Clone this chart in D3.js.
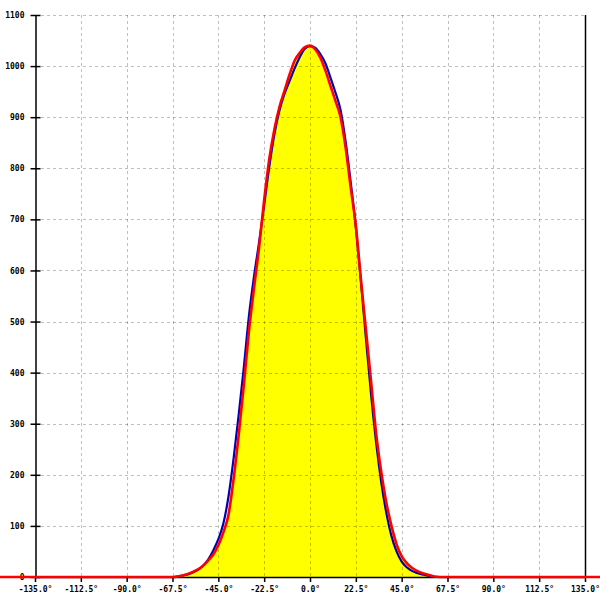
<!DOCTYPE html>
<html>
<head>
<meta charset="utf-8">
<script src="https://cdn.jsdelivr.net/npm/d3@7"></script>
<style>
  html, body { margin: 0; padding: 0; background: #fff; }
  svg { display: block; }
  text { font-family: "DejaVu Sans Mono", monospace; font-size: 8px; font-weight: bold; fill: #000; }
</style>
</head>
<body>
<svg id="chart" width="600" height="600"></svg>
<script>
// ---- data ----
const angles = [-155, -70, -67.5, -65, -62.5, -60, -57.5, -55, -52.5, -50, -47.5, -45, -42.5, -40, -37.5, -35, -32.5, -30, -27.5, -25, -22.5, -20, -17.5, -15, -12.5, -10, -7.5, -5, -2.5, 0, 2.5, 5, 7.5, 10, 12.5, 15, 17.5, 20, 22.5, 25, 27.5, 30, 32.5, 35, 37.5, 40, 42.5, 45, 47.5, 50, 52.5, 55, 57.5, 60, 62.5, 65, 155];
const redValues = [0, 0, 0, 1, 3, 6, 10, 15, 22, 32, 44, 62, 88, 122, 192, 278, 375, 480, 565, 645, 738, 818, 876, 920, 952, 984, 1011, 1026, 1037, 1040, 1033, 1017, 992, 962, 932, 900, 840, 762, 688, 582, 482, 382, 280, 205, 145, 100, 64, 41, 27, 18, 12, 8, 5, 2, 0.5, 0, 0];
const blueValues = [0, 0, 0, 1, 3, 5, 9, 14, 22, 34, 52, 74, 105, 158, 232, 318, 410, 510, 588, 655, 728, 803, 866, 913, 946, 971, 996, 1018, 1034, 1039, 1036, 1024, 1006, 978, 948, 914, 852, 772, 685, 578, 465, 357, 262, 185, 125, 80, 50, 30, 19, 12, 8, 5, 3, 1, 0, 0, 0];
const xTicks = [-135, -112.5, -90, -67.5, -45, -22.5, 0, 22.5, 45, 67.5, 90, 112.5, 135];
const yTicks = [0, 100, 200, 300, 400, 500, 600, 700, 800, 900, 1000, 1100];

// ---- chart ----
const svg = d3.select("#chart");
const x = d3.scaleLinear().domain([-135, 135]).range([35, 585]);
const y = d3.scaleLinear().domain([0, 1100]).range([577, 15]);

const red = angles.map((a, i) => ({ a, v: redValues[i] }));
const blue = angles.map((a, i) => ({ a, v: blueValues[i] }));

// fill under red curve
svg.append("path")
  .datum(red)
  .attr("fill", "#ffff00")
  .attr("d", d3.area().curve(d3.curveMonotoneX).x(d => x(d.a)).y0(y(0)).y1(d => y(d.v)));

// grid
const grid = svg.append("g").attr("stroke", "#000").attr("stroke-opacity", 0.25)
  .attr("stroke-dasharray", "3,3").attr("stroke-width", 1);
grid.selectAll("line.v").data(xTicks.filter(t => t > -135 && t < 135)).join("line")
  .attr("x1", d => Math.round(x(d)) + 0.5).attr("x2", d => Math.round(x(d)) + 0.5)
  .attr("y1", y(1100)).attr("y2", y(0));
grid.selectAll("line.h").data(yTicks.filter(t => t > 0)).join("line")
  .attr("x1", x(-135)).attr("x2", x(135))
  .attr("y1", d => Math.round(y(d)) + 0.5).attr("y2", d => Math.round(y(d)) + 0.5);

// axes
const yAxis = d3.axisLeft(y).tickValues(yTicks).tickSizeInner(5).tickSizeOuter(0).tickPadding(6).tickFormat(d3.format("d"));
const gy = svg.append("g").attr("transform", `translate(${Math.round(x(-135)) + 0.5},0)`).call(yAxis);
gy.selectAll(".tick line").attr("x1", 5).attr("x2", -5).attr("stroke-width", 1.5);
gy.select(".domain").attr("stroke-width", 1.5);
gy.selectAll("text").attr("font-size", null).attr("font-family", null);

const xAxis = d3.axisBottom(x).tickValues(xTicks).tickSizeInner(5).tickSizeOuter(0).tickPadding(4).tickFormat(d => d3.format(".1f")(d).replace("−", "-") + "°");
const gx = svg.append("g").attr("transform", `translate(0,${y(0)})`).call(xAxis);
gx.selectAll(".tick line").attr("stroke-width", 1.5);
gx.select(".domain").attr("stroke-width", 1.5);
gx.selectAll("text").attr("font-size", null).attr("font-family", null);

// right border line
svg.append("line")
  .attr("x1", Math.round(x(135)) + 0.5).attr("x2", Math.round(x(135)) + 0.5)
  .attr("y1", y(1100)).attr("y2", y(0))
  .attr("stroke", "#000").attr("stroke-width", 1.5);

// curves
const line = d3.line().curve(d3.curveMonotoneX).x(d => x(d.a)).y(d => y(d.v));
svg.append("path").datum(blue).attr("fill", "none").attr("stroke", "#0000b4").attr("stroke-width", 2.2).attr("d", line);
svg.append("path").datum(red).attr("fill", "none").attr("stroke", "#ff0000").attr("stroke-width", 2.6).attr("d", line);
</script>
</body>
</html>
